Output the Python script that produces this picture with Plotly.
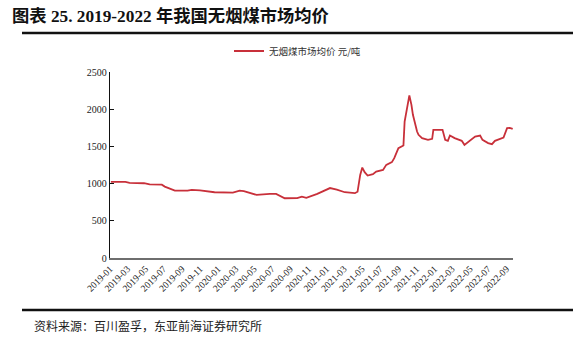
import plotly.graph_objects as go

# Weekly average market price of anthracite (yuan/ton)
dates = [
    "2019-01-04", "2019-02-22", "2019-03-08", "2019-04-26", "2019-05-15", "2019-06-25",
    "2019-07-05", "2019-08-08", "2019-09-20", "2019-10-04", "2019-11-01", "2019-12-20",
    "2020-02-20", "2020-03-14", "2020-03-28", "2020-05-10", "2020-06-24", "2020-07-15",
    "2020-08-13", "2020-09-24", "2020-10-10", "2020-10-25", "2020-12-01", "2020-12-18",
    "2021-01-13", "2021-02-05", "2021-03-04", "2021-04-07", "2021-04-16", "2021-04-25",
    "2021-05-02", "2021-05-10", "2021-05-20", "2021-06-07", "2021-06-18", "2021-07-11",
    "2021-07-22", "2021-08-10", "2021-08-18", "2021-09-01", "2021-09-18", "2021-09-22",
    "2021-10-01", "2021-10-08", "2021-10-15", "2021-10-20", "2021-11-03", "2021-11-08",
    "2021-11-20", "2021-12-10", "2021-12-24", "2021-12-28", "2022-01-28", "2022-02-06",
    "2022-02-15", "2022-02-22", "2022-03-10", "2022-04-03", "2022-04-12", "2022-04-24",
    "2022-05-18", "2022-06-04", "2022-06-12", "2022-07-01", "2022-07-14", "2022-07-24",
    "2022-08-17", "2022-08-22", "2022-09-03", "2022-09-12", "2022-09-22",
]
prices = [
    1023, 1023, 1010, 1005, 990, 985,
    960, 906, 906, 915, 910, 884,
    879, 906, 900, 848, 861, 861,
    803, 805, 825, 808, 861, 888,
    940, 920, 884, 871, 890, 1117,
    1215, 1153, 1108, 1126, 1161, 1184,
    1252, 1288, 1342, 1476, 1512, 1835,
    2059, 2185, 2059, 1925, 1700, 1656,
    1611, 1588, 1602, 1723, 1723, 1588,
    1575, 1646, 1611, 1575, 1521, 1557,
    1633, 1646, 1588, 1544, 1530, 1575,
    1611, 1620, 1746, 1750, 1736,
]

tick_vals = [f"{y}-{m:02d}-01" for y in range(2019, 2023) for m in range(1, 13, 2)]
tick_vals = [t for t in tick_vals if t <= "2022-09-01"]
tick_text = [t[:7] for t in tick_vals]
y_ticks = [0, 500, 1000, 1500, 2000, 2500]

title_text = "图表 25. 2019-2022 年我国无烟煤市场均价"
source_text = "资料来源：百川盈孚，东亚前海证券研究所"
series_name = "无烟煤市场均价 元/吨"

W, H = 584, 342
L, R, T, B = 110, 71, 72, 84
pw, ph = W - L - R, H - T - B


def px(x):
    return (x - L) / pw


def py(y):
    return (H - B - y) / ph


serif = "Liberation Serif, Times New Roman, Noto Sans CJK SC"

fig = go.Figure()
fig.add_trace(go.Scatter(
    x=dates, y=prices, mode="lines", name=series_name,
    line=dict(color="#C8303A", width=1.8),
))

fig.update_layout(
    width=W, height=H,
    margin=dict(l=L, r=R, t=T, b=B),
    paper_bgcolor="white", plot_bgcolor="white",
    showlegend=True,
    legend=dict(
        orientation="h", x=px(229), xanchor="left", y=py(51), yanchor="middle",
        font=dict(family="Noto Sans CJK SC", size=9.5, color="#333"),
        bgcolor="rgba(0,0,0,0)", borderwidth=0,
    ),
    xaxis=dict(
        type="date", range=["2019-01-01", "2022-09-23"],
        tickvals=tick_vals, ticktext=tick_text, tickangle=-45,
        tickfont=dict(family=serif, size=9.5, color="#222"),
        showgrid=False, zeroline=False,
        showline=True, linecolor="#6e6e6e", linewidth=1.5,
        ticks="",
    ),
    yaxis=dict(
        range=[0, 2500], tickvals=y_ticks,
        tickfont=dict(family=serif, size=10, color="#222"),
        showgrid=False, zeroline=False,
        showline=True, linecolor="#111", linewidth=1.3,
        ticks="inside", ticklen=4, tickcolor="#111",
    ),
)

fig.add_annotation(
    text=f"<b>{title_text}</b>", xref="paper", yref="paper",
    x=px(10), y=py(16), xanchor="left", yanchor="middle", showarrow=False,
    font=dict(family=serif, size=17.3, color="#111"),
)
fig.add_annotation(
    text=source_text, xref="paper", yref="paper",
    x=px(32), y=py(325), xanchor="left", yanchor="middle", showarrow=False,
    font=dict(family="Noto Sans CJK SC", size=12, color="#222"),
)

# Rules under the heading and above the source note
for yy, w in [(33, 2.5), (310, 2.5)]:
    fig.add_shape(
        type="line", xref="paper", yref="paper",
        x0=px(22), x1=px(573), y0=py(yy), y1=py(yy),
        line=dict(color="#111", width=w),
    )

fig.write_html("out.html")
